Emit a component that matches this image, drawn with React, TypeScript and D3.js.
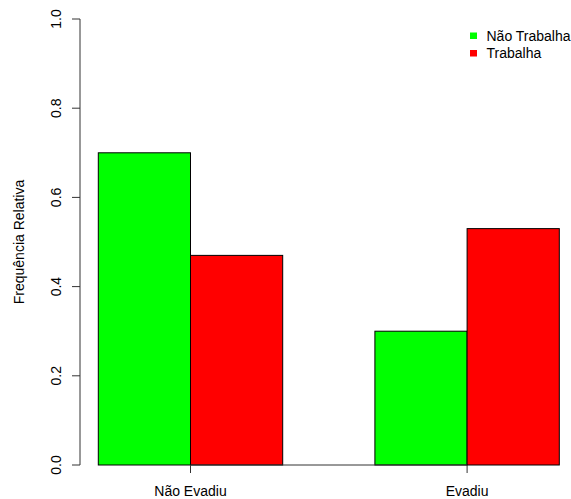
import React from "react";
import * as d3 from "d3";

const categories = ["Não Evadiu", "Evadiu"];
const seriesNames = ["Não Trabalha", "Trabalha"];
const naoTrabalha = [0.70, 0.30];
const trabalha = [0.47, 0.53];
const yTicks = [0, 0.2, 0.4, 0.6, 0.8, 1.0];
const colors = ["#00FF00", "#FF0000"];

const W = 571;
const H = 499;
const FONT = "'Liberation Sans', Arial, Helvetica, sans-serif";
const FS = 14;

export default function App() {
  const series = [naoTrabalha, trabalha];
  // R barplot beside=TRUE units: group g bars at [1 + 3g + s, 2 + 3g + s]
  const x = d3.scaleLinear().domain([1, 6]).range([98.3, 559.3]);
  const y = d3.scaleLinear().domain([0, 1]).range([465, 19]);
  const axisX = 80;

  const bars: any[] = [];
  categories.forEach((c, g) => {
    series.forEach((vals, s) => {
      const u0 = 1 + 3 * g + s;
      bars.push({ x0: x(u0), x1: x(u0 + 1), v: vals[g], color: colors[s], key: `${g}-${s}` });
    });
  });
  const centers = categories.map((_, g) => x(2 + 3 * g));

  return (
    <svg
      width={W}
      height={H}
      style={{ position: "absolute", left: 0, top: 0, background: "#fff" }}
      fontFamily={FONT}
    >
      {bars.map((b) => (
        <rect
          key={b.key}
          x={b.x0}
          y={y(b.v)}
          width={b.x1 - b.x0}
          height={y(0) - y(b.v)}
          fill={b.color}
          stroke="#000"
          strokeWidth={1}
        />
      ))}
      {/* x axis */}
      <line x1={centers[0]} x2={centers[centers.length - 1]} y1={y(0)} y2={y(0)} stroke="#333" />
      {centers.map((cx, i) => (
        <g key={i}>
          <line x1={cx} x2={cx} y1={y(0)} y2={y(0) + 8} stroke="#333" />
          <text x={cx} y={495.5} textAnchor="middle" fontSize={FS} fill="#000">
            {categories[i]}
          </text>
        </g>
      ))}
      {/* y axis */}
      <line x1={axisX} x2={axisX} y1={y(0)} y2={y(1)} stroke="#333" />
      {yTicks.map((t) => (
        <g key={t}>
          <line x1={axisX - 8} x2={axisX} y1={y(t)} y2={y(t)} stroke="#333" />
          <text
            transform={`translate(60.5,${y(t)}) rotate(-90)`}
            textAnchor="middle"
            fontSize={FS}
            fill="#000"
          >
            {d3.format(".1f")(t)}
          </text>
        </g>
      ))}
      <text
        transform={`translate(23.5,${(y(0) + y(1)) / 2}) rotate(-90)`}
        textAnchor="middle"
        fontSize={FS}
        fill="#000"
      >
        Frequência Relativa
      </text>
      {/* legend */}
      {seriesNames.map((n, i) => (
        <g key={n}>
          <rect x={470} y={32.5 + i * 17.5} width={7} height={6.5} fill={colors[i]} />
          <text x={486.5} y={40.8 + i * 17.5} fontSize={FS} fill="#000">
            {n}
          </text>
        </g>
      ))}
    </svg>
  );
}
